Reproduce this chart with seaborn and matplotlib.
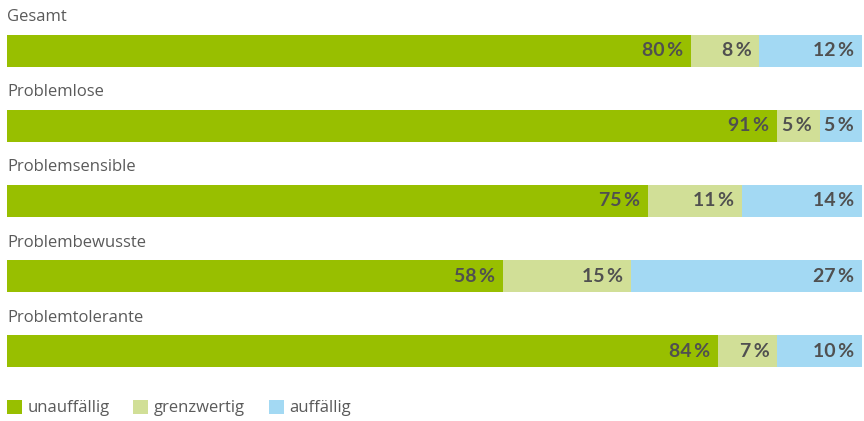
import matplotlib
matplotlib.use("Agg")
import matplotlib.pyplot as plt
import seaborn as sns
import pandas as pd
import numpy as np
from matplotlib.patches import Patch

categories = ["Gesamt", "Problemlose", "Problemsensible", "Problembewusste", "Problemtolerante"]
unauffaellig = [80, 91, 75, 58, 84]
grenzwertig = [8, 5, 11, 15, 7]
auffaellig = [12, 5, 14, 27, 10]
series_names = ["unauffällig", "grenzwertig", "auffällig"]
colors = ["#98BF00", "#D1DF97", "#A3D9F3"]
text_color = "#505050"

sns.set_theme(style="white")
plt.rcParams["font.family"] = ["Open Sans", "DejaVu Sans"]

df = pd.DataFrame({"cat": categories, "u": unauffaellig, "g": grenzwertig, "a": auffaellig})
total = df[["u", "g", "a"]].sum(axis=1)
df["c1"] = df["u"] / total * 100
df["c2"] = (df["u"] + df["g"]) / total * 100
df["c3"] = (df["u"] + df["g"] + df["a"]) / total * 100

fig = plt.figure(figsize=(8.64, 4.21), dpi=100)
ax = fig.add_axes([7 / 864, 0, 855 / 864, 1])

bar_w = 32 / 75.2
for col, color in zip(["c3", "c2", "c1"], colors[::-1]):
    sns.barplot(data=df, x=col, y="cat", color=color, orient="h", width=bar_w,
                saturation=1, ax=ax, linewidth=0)

ax.set_xlim(0, 100)
ax.set_ylim((421 - 50.5) / 75.2, -50.5 / 75.2)
ax.axis("off")

vals = [unauffaellig, grenzwertig, auffaellig]
ends = [df["c1"], df["c2"], df["c3"]]
for i, cat in enumerate(categories):
    ax.text(0, i - 0.445, cat, ha="left", va="center", fontsize=12,
            color="#5a5a5a")
    for s in range(3):
        ax.annotate(f"{vals[s][i]}\u2009%", xy=(ends[s][i], i), xytext=(-8, 0),
                    textcoords="offset pixels", ha="right", va="center",
                    fontsize=14, fontweight="bold", color=text_color,
                    family=["Lato", "DejaVu Sans"])

handles = [Patch(facecolor=c, edgecolor="none", label=n) for c, n in zip(colors, series_names)]
leg = fig.legend(handles=handles, loc="center left", bbox_to_anchor=(7 / 864, 1 - 408 / 421),
                 ncol=3, frameon=False, fontsize=12, handlelength=0.9, handleheight=0.9,
                 handletextpad=0.35, columnspacing=1.4, borderaxespad=0, borderpad=0)
for t in leg.get_texts():
    t.set_color("#5a5a5a")

fig.savefig("out.png", dpi=100)
